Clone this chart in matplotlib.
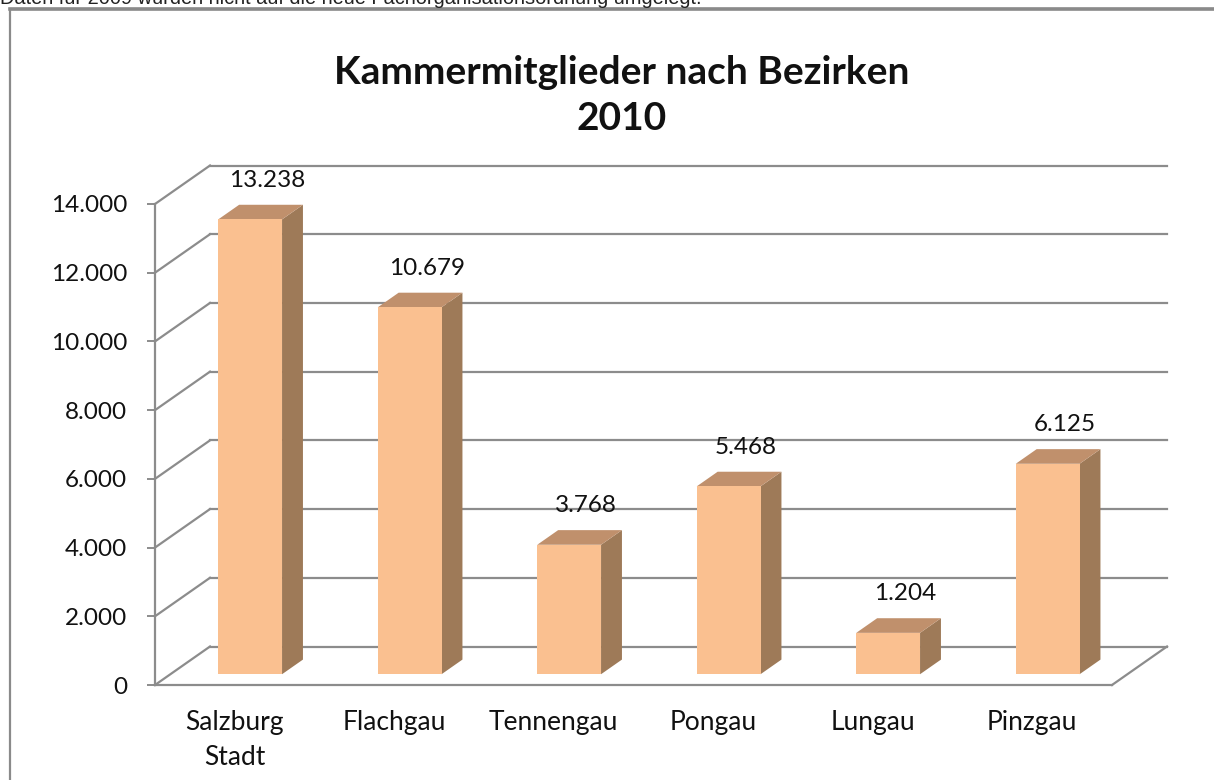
import matplotlib
matplotlib.use("Agg")
import matplotlib.pyplot as plt
from matplotlib.patches import Polygon, Rectangle
from matplotlib.ticker import FuncFormatter

# ---- data ----
categories = ["Salzburg\nStadt", "Flachgau", "Tennengau", "Pongau", "Lungau", "Pinzgau"]
values = [13238, 10679, 3768, 5468, 1204, 6125]
value_labels = ["13.238", "10.679", "3.768", "5.468", "1.204", "6.125"]
yticks = [0, 2000, 4000, 6000, 8000, 10000, 12000, 14000]
title_lines = ["Kammermitglieder nach Bezirken", "2010"]
note = "Daten für 2009 wurden nicht auf die neue Fachorganisationsordnung umgelegt."

# ---- style ----
W, H = 1214, 780
FONT = "Lato"
GRID = "#8c8c8c"
FRONT = "#FAC090"
SIDE = "#9E7A58"
TOP = "#C0906C"

fig = plt.figure(figsize=(W / 100, H / 100), dpi=100)
fig.patch.set_facecolor("white")

# chart frame (partially outside the picture)
fig.add_artist(Rectangle((10 / W, -0.05), 1.2, (H - 9) / H + 0.05, transform=fig.transFigure,
                         fill=False, edgecolor="#8a8a8a", lw=1.6))
fig.add_artist(plt.Line2D([10 / W, 1.0], [(H - 9) / H] * 2, transform=fig.transFigure,
                          color="#8a8a8a", lw=2.6))
fig.text(0.0, (H - 4) / H, note, fontsize=14.4, family="Liberation Sans", va="baseline",
         ha="left", color="#222222")

# front plane of the 3D plot
x_left, x_right, y_bottom, y_top = 155, 1112, 685, 204
ax = fig.add_axes([x_left / W, (H - y_bottom) / H, (x_right - x_left) / W, (y_bottom - y_top) / H])
n = len(categories)
ax.set_xlim(0, n)
ax.set_ylim(0, yticks[-1])
ax.patch.set_alpha(0)

# depth of the 3D box (pixels -> data units)
depth_px_x, depth_px_y = 55, 38.5
DX = depth_px_x / ((x_right - x_left) / n)
DY = depth_px_y / ((y_bottom - y_top) / yticks[-1])

for s in ["top", "right"]:
    ax.spines[s].set_visible(False)
for s in ["left", "bottom"]:
    ax.spines[s].set_color(GRID)
    ax.spines[s].set_linewidth(1.6)

ax.set_yticks(yticks)
ax.yaxis.set_major_formatter(FuncFormatter(lambda v, p: f"{int(v):,}".replace(",", ".")))
ax.tick_params(axis="y", length=6, width=1.4, color=GRID, pad=14, labelsize=17.5)
ax.set_xticks([i + 0.5 for i in range(n)])
ax.set_xticklabels(categories, linespacing=1.5)
ax.tick_params(axis="x", length=0, pad=18, labelsize=19)
for lab in ax.get_xticklabels() + ax.get_yticklabels():
    lab.set_family(FONT)
    lab.set_color("#111111")

# walls: back-wall gridlines and side-wall diagonals
for v in yticks:
    ax.plot([DX, n + DX], [v + DY, v + DY], color=GRID, lw=1.6, clip_on=False, zorder=1)
    ax.plot([0, DX], [v, v + DY], color=GRID, lw=1.6, clip_on=False, zorder=1)
# right edge of the floor
ax.plot([n, n + DX], [0, DY], color=GRID, lw=1.6, clip_on=False, zorder=1)

# 3D bars
bw = 0.40
f0, f1 = 0.28, 0.66
dd = f1 - f0
for i, (v, lab) in enumerate(zip(values, value_labels)):
    x0 = i + 0.5 - bw / 2 + f0 * DX
    x1 = x0 + bw
    y0 = f0 * DY
    y1 = y0 + v
    ax.add_patch(Polygon([(x1, y0), (x1 + dd * DX, y0 + dd * DY), (x1 + dd * DX, y1 + dd * DY), (x1, y1)],
                         closed=True, facecolor=SIDE, edgecolor="none", clip_on=False, zorder=3))
    ax.add_patch(Polygon([(x0, y1), (x1, y1), (x1 + dd * DX, y1 + dd * DY), (x0 + dd * DX, y1 + dd * DY)],
                         closed=True, facecolor=TOP, edgecolor="none", clip_on=False, zorder=3))
    ax.add_patch(Rectangle((x0, y0), bw, v, facecolor=FRONT, edgecolor="none", clip_on=False, zorder=4))
    ax.text((x0 + x1) / 2 + 0.107, y1 + 39 / ((y_bottom - y_top) / yticks[-1]), lab,
            ha="center", va="center", fontsize=17.5, family=FONT, color="#111111", zorder=5)

# title
fig.text(622 / W, (H - 72) / H, title_lines[0], ha="center", va="center", fontsize=28,
         fontweight="bold", family=FONT, color="#111111")
fig.text(622 / W, (H - 118) / H, title_lines[1], ha="center", va="center", fontsize=28,
         fontweight="bold", family=FONT, color="#111111")

fig.savefig("out.png", dpi=100)
